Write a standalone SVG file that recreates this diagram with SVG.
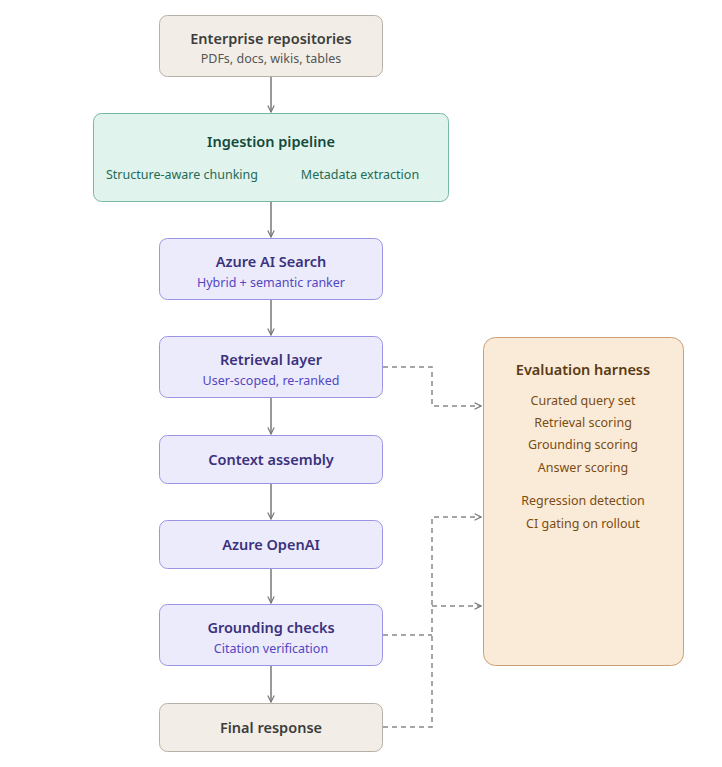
<svg xmlns="http://www.w3.org/2000/svg" width="722" height="767" viewBox="0 0 722 767">
<style>
text{font-family:"Noto Sans","Open Sans",sans-serif;text-anchor:middle}
.t{font-size:14.5px;font-weight:600}
.s{font-size:12.5px}
.g rect{fill:#f2eee7;stroke:#b6b0a6}
.g .t{fill:#3d3d3d}.g .s{fill:#555}
.p rect{fill:#ecebfc;stroke:#9b95e6}
.p .t{fill:#3b327d}.p .s{fill:#5346c2}
.c{fill:none;stroke:#777;stroke-width:1.5}
.d{fill:none;stroke:#888;stroke-width:1.5;stroke-dasharray:5 4}
</style>
<defs>
<marker id="a" viewBox="0 0 10 10" refX="9" refY="5" markerWidth="8" markerHeight="8" orient="auto" markerUnits="userSpaceOnUse"><path d="M1,1 L9,5 L1,9" fill="none" stroke="#777" stroke-width="1.5"/></marker>
</defs>
<g id="connectors">
<path class="c" d="M271,77V112" marker-end="url(#a)"/>
<path class="c" d="M271,202V237" marker-end="url(#a)"/>
<path class="c" d="M271,300V335" marker-end="url(#a)"/>
<path class="c" d="M271,398V434" marker-end="url(#a)"/>
<path class="c" d="M271,484V519" marker-end="url(#a)"/>
<path class="c" d="M271,568V603" marker-end="url(#a)"/>
<path class="c" d="M271,666V702" marker-end="url(#a)"/>
<path class="d" d="M383,367H432V406H481" marker-end="url(#a)"/>
<path class="d" d="M383,635H432"/>
<path class="d" d="M383,727H432V517H481" marker-end="url(#a)"/>
<path class="d" d="M432,606H481" marker-end="url(#a)"/>
</g>
<g id="n1" class="g"><rect x="159.5" y="15.5" width="223" height="61" rx="8"/><text class="t" x="271" y="44">Enterprise repositories</text><text class="s" x="271" y="63">PDFs, docs, wikis, tables</text></g>
<g id="n2"><rect x="93.5" y="113.5" width="355" height="88" rx="8" fill="#e0f3ec" stroke="#78b8a0"/><text class="t" x="271" y="147" fill="#124a3c">Ingestion pipeline</text><text class="s" x="182" y="179" fill="#1f6b58">Structure-aware chunking</text><text class="s" x="360" y="179" fill="#1f6b58">Metadata extraction</text></g>
<g id="n3" class="p"><rect x="159.5" y="238.5" width="223" height="61" rx="8"/><text class="t" x="271" y="267">Azure AI Search</text><text class="s" x="271" y="287">Hybrid + semantic ranker</text></g>
<g id="n4" class="p"><rect x="159.5" y="336.5" width="223" height="61" rx="8"/><text class="t" x="271" y="365">Retrieval layer</text><text class="s" x="271" y="385">User-scoped, re-ranked</text></g>
<g id="n5" class="p"><rect x="159.5" y="435.5" width="223" height="48" rx="8"/><text class="t" x="271" y="465">Context assembly</text></g>
<g id="n6" class="p"><rect x="159.5" y="520.5" width="223" height="48" rx="8"/><text class="t" x="271" y="550">Azure OpenAI</text></g>
<g id="n7" class="p"><rect x="159.5" y="604.5" width="223" height="61" rx="8"/><text class="t" x="271" y="633">Grounding checks</text><text class="s" x="271" y="653">Citation verification</text></g>
<g id="n8" class="g"><rect x="159.5" y="703.5" width="223" height="48" rx="8"/><text class="t" x="271" y="733">Final response</text></g>
<g id="n9"><rect x="483.5" y="337.5" width="200" height="328" rx="12" fill="#faebd8" stroke="#c9a07a"/>
<text class="t" x="583" y="375" fill="#5a3a12">Evaluation harness</text>
<g class="s" fill="#7a4c12"><text x="583" y="405">Curated query set</text><text x="583" y="427">Retrieval scoring</text><text x="583" y="449">Grounding scoring</text><text x="583" y="472">Answer scoring</text><text x="583" y="505">Regression detection</text><text x="583" y="528">CI gating on rollout</text></g></g>
</svg>
